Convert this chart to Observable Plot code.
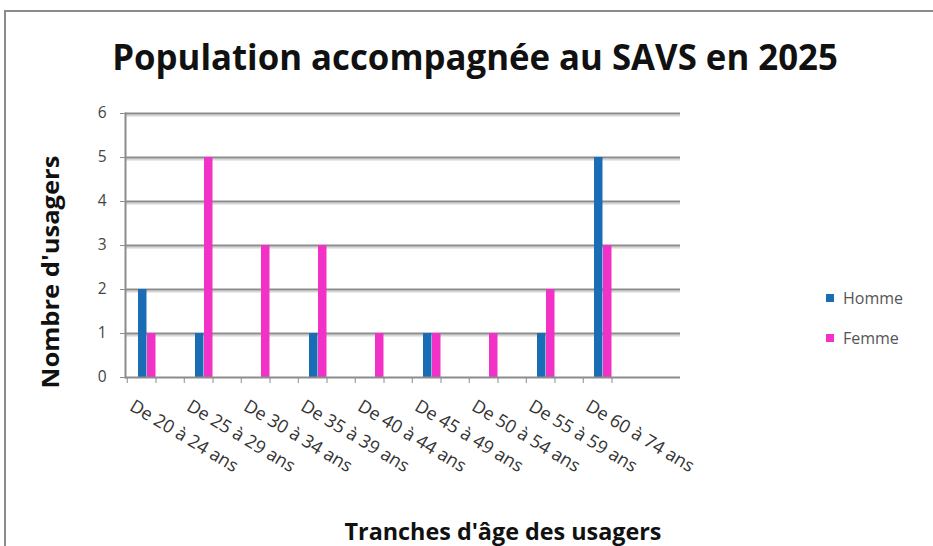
<!DOCTYPE html>
<html><head><meta charset="utf-8">
<script src="https://cdn.jsdelivr.net/npm/d3@7"></script>
<script src="https://cdn.jsdelivr.net/npm/@observablehq/plot@0.6"></script>
<style>
html,body{margin:0;padding:0;background:#fff;}
#wrap{position:relative;width:933px;height:546px;overflow:hidden;background:#fff;}
#border{position:absolute;left:4px;top:10px;width:940px;height:560px;border-left:2px solid #8a8a8a;border-top:2px solid #8a8a8a;box-sizing:border-box;}
.t{position:absolute;font-family:"Open Sans",sans-serif;font-weight:700;color:#111;white-space:nowrap;line-height:1;}
#title{font-size:35px;}
#ylab{font-size:24px;}
#xlab{font-size:24px;}
#legend{position:absolute;left:826px;top:288px;font-family:"Open Sans",sans-serif;font-size:16px;color:#555;}
#legend .it{display:flex;align-items:center;height:20px;margin-bottom:20px;}
#legend .sw{width:8px;height:8px;margin-right:9px;}
#chart{position:absolute;left:0;top:95px;}
</style></head>
<body><div id="wrap"><div id="border"></div>
<div id="chart"></div>
<div id="title" class="t">Population accompagnée au SAVS en 2025</div>
<div id="ylab" class="t">Nombre d'usagers</div>
<div id="xlab" class="t">Tranches d'âge des usagers</div>
<div id="legend"></div>
</div>
<script>
const categories = ["De 20 à 24 ans","De 25 à 29 ans","De 30 à 34 ans","De 35 à 39 ans","De 40 à 44 ans","De 45 à 49 ans","De 50 à 54 ans","De 55 à 59 ans","De 60 à 74 ans"];
const homme = [2,1,0,1,0,1,0,1,5];
const femme = [1,5,3,3,1,1,1,2,3];
const series = ["Homme","Femme"];
const colors = ["#1a6db5","#f231c6"];
const yTicks = [0,1,2,3,4,5,6];

const data = categories.flatMap((c,i)=>[
  {cat:c, sexe:"Homme", n:homme[i]},
  {cat:c, sexe:"Femme", n:femme[i]}
]);

const chart = Plot.plot({
  width: 933, height: 390,
  marginLeft: 125, marginRight: 253, marginTop: 18, marginBottom: 108,
  style: {fontFamily: "'Open Sans', sans-serif", background: "transparent", overflow: "visible"},
  x: {domain: categories, range: [125, 642.5], padding: 0, axis: null},
  y: {domain: [0, 6], axis: null},
  color: {domain: series, range: colors},
  marks: [
    Plot.gridY(yTicks.filter(d=>d>0), {stroke: "#d6d6d6", strokeWidth: 2, strokeOpacity: 1, dy: 2}),
    Plot.gridY(yTicks.filter(d=>d>0), {stroke: "#8c8c8c", strokeWidth: 2, strokeOpacity: 1}),
    Plot.frame({anchor: "left", stroke: "#8c8c8c", strokeWidth: 2}),
    Plot.axisY({ticks: yTicks, tickSize: 5, tickPadding: 14, fontSize: 15.5, fill: "#444", stroke: "#8c8c8c", tickFormat: d=>d, label: null}),
    Plot.barY(data.filter(d=>d.sexe==="Homme"), {x: "cat", y: "n", fill: "sexe", insetLeft: 11, insetRight: 37.5}),
    Plot.barY(data.filter(d=>d.sexe==="Femme"), {x: "cat", y: "n", fill: "sexe", insetLeft: 20, insetRight: 28.5}),
    Plot.ruleY([0], {stroke: "#8c8c8c", strokeWidth: 2}),
    Plot.axisX({tickSize: 6, text: null, stroke: "#8c8c8c", dx: -28.75, label: null}),
    Plot.axisX({tickSize: 6, text: null, stroke: "#8c8c8c", label: null}),
    Plot.axisX({tickSize: 0, tickRotate: 31, textAnchor: "start", lineAnchor: "top", tickPadding: 21, dx: -21, fontSize: 18, fill: "#333", label: null})
  ]
});
document.getElementById("chart").appendChild(chart);

const leg = document.getElementById("legend");
series.forEach((s,i)=>{
  const it = document.createElement("div"); it.className="it";
  const sw = document.createElement("div"); sw.className="sw"; sw.style.background=colors[i];
  it.appendChild(sw); it.appendChild(document.createTextNode(s)); leg.appendChild(it);
});

// place a text so its width (length) matches the reference, centred at cx, cy
function place(id, cx, cy, len, rot) {
  const el = document.getElementById(id);
  const w = el.offsetWidth;
  const s = len / w;
  el.style.left = cx + "px";
  el.style.top = cy + "px";
  el.style.transform = `translate(-50%,-50%) rotate(${rot}deg) scaleX(${s})`;
}
place("title", 475, 56, 726, 0);
place("ylab", 50, 272, 233, -90);
place("xlab", 503, 531, 317, 0);
</script></body></html>
